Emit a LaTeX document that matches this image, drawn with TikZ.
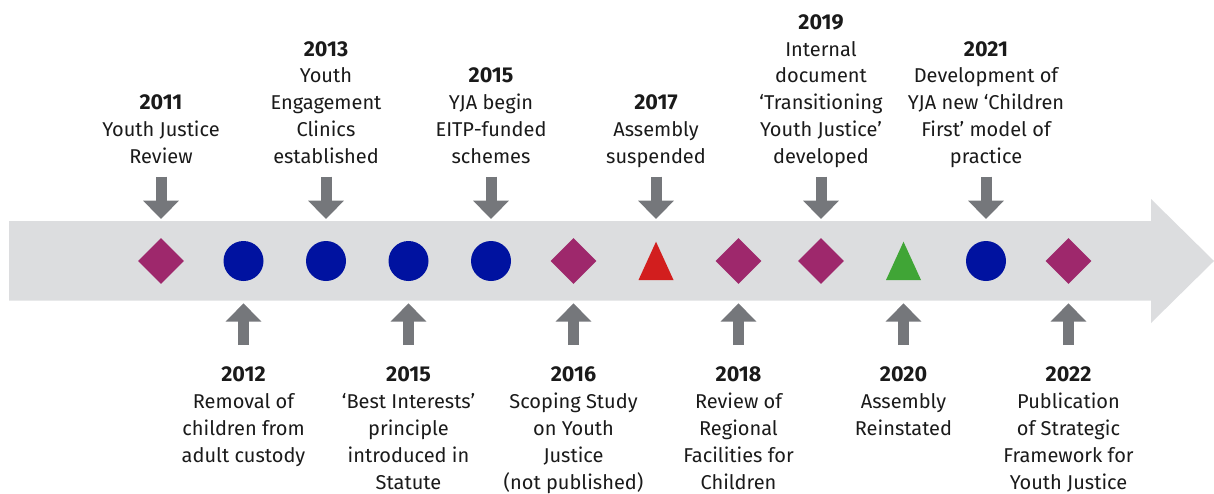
\documentclass[tikz,border=0pt]{standalone}
\usepackage{fontspec}
\setmainfont{Fira Sans}
\usetikzlibrary{shapes.geometric,arrows.meta}
\definecolor{band}{RGB}{220,221,223}
\definecolor{arrowgray}{RGB}{117,119,123}
\definecolor{plum}{RGB}{158,40,108}
\definecolor{navy}{RGB}{0,18,160}
\definecolor{tred}{RGB}{210,30,30}
\definecolor{tgreen}{RGB}{64,165,54}
\definecolor{txt}{RGB}{26,26,26}
\newcommand{\yr}[1]{{\fontsize{21.5}{26.8}\selectfont\bfseries #1}}
\tikzset{
  dia/.style={diamond,fill=plum,minimum width=46pt,minimum height=46pt,inner sep=0pt},
  dot/.style={circle,fill=navy,minimum size=40pt,inner sep=0pt},
  blockarrow/.style={draw=arrowgray,line width=11pt,line cap=butt,-{Triangle[width=34.7pt,length=18.3pt]}},
  toplab/.style={anchor=south,align=center,inner sep=0pt,text=txt,font=\fontsize{20}{26.8}\selectfont},
  botlab/.style={anchor=north,align=center,inner sep=0pt,text=txt,font=\fontsize{20}{26.8}\selectfont},
}
\begin{document}
\begin{tikzpicture}[x=1pt,y=-1pt]
\useasboundingbox (0,0) rectangle (1214,493);
% band arrow
\fill[band] (9,221) -- (1151,221) -- (1151,199) -- (1214,261) -- (1151,323) -- (1151,300.7) -- (9,300.7) -- cycle;
% symbols
\node[dia] (s1) at (161,261) {};
\node[dot] (s2) at (243.5,261) {};
\node[dot] (s3) at (326,261) {};
\node[dot] (s4) at (408.5,261) {};
\node[dot] (s5) at (491,261) {};
\node[dia] (s6) at (573.5,261) {};
\fill[tred] (656,241.7) coordinate (s7) -- (673.5,280) -- (638.5,280) -- cycle;
\node[dia] (s8) at (738.5,261) {};
\node[dia] (s9) at (821,261) {};
\fill[tgreen] (903.5,241.7) coordinate (s10) -- (921,280) -- (886,280) -- cycle;
\node[dot] (s11) at (986,261) {};
\node[dia] (s12) at (1068.5,261) {};
% arrows
\foreach \x/\n in {161/1,326/3,491/5,656/7,821/9,986/11}{
  \coordinate (ta\n) at (\x,176.7);
  \coordinate (te\n) at (\x,219);
  \draw[blockarrow] (ta\n) -- (te\n);
}
\foreach \x/\n in {243.5/2,408.5/4,573.5/6,738.5/8,903.5/10,1068.5/12}{
  \coordinate (ba\n) at (\x,345);
  \coordinate (be\n) at (\x,303.3);
  \draw[blockarrow] (ba\n) -- (be\n);
}
% top labels
\node[toplab] (l1) at (161,171.5) {\yr{2011}\\Youth Justice\\Review\strut};
\node[toplab] (l3) at (326,171.5) {\yr{2013}\\Youth\\Engagement\\Clinics\\established\strut};
\node[toplab] (l5) at (491,171.5) {\yr{2015}\\YJA begin\\EITP-funded\\schemes\strut};
\node[toplab] (l7) at (656,171.5) {\yr{2017}\\Assembly\\suspended\strut};
\node[toplab] (l9) at (821,171.5) {\yr{2019}\\Internal\\document\\‘Transitioning\\Youth Justice’\\developed\strut};
\node[toplab] (l11) at (986,171.5) {\yr{2021}\\Development of\\YJA new ‘Children\\First’ model of\\practice\strut};
% bottom labels
\node[botlab] (l2) at (243.5,363) {\strut\yr{2012}\\Removal of\\children from\\adult custody};
\node[botlab] (l4) at (408.5,363) {\strut\yr{2015}\\‘Best Interests’\\principle\\introduced in\\Statute};
\node[botlab] (l6) at (573.5,363) {\strut\yr{2016}\\Scoping Study\\on Youth\\Justice\\(not published)};
\node[botlab] (l8) at (738.5,363) {\strut\yr{2018}\\Review of\\Regional\\Facilities for\\Children};
\node[botlab] (l10) at (903.5,363) {\strut\yr{2020}\\Assembly\\Reinstated};
\node[botlab] (l12) at (1068.5,363) {\strut\yr{2022}\\Publication\\of Strategic\\Framework for\\Youth Justice};
\end{tikzpicture}
\end{document}
